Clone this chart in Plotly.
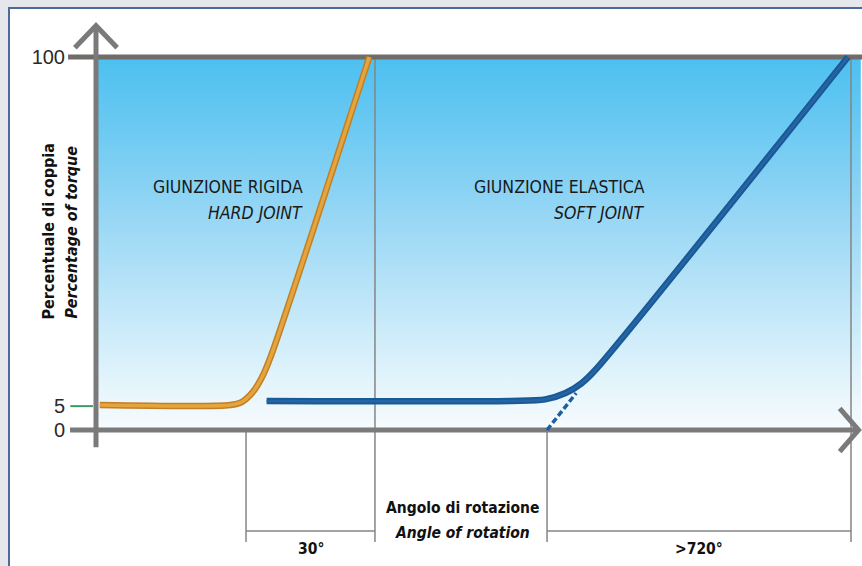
import plotly.graph_objects as go

# ---------------- data (schematic units: x 0..100 along rotation, y = % torque) -------------
hard_x = [0.5, 17.8, 19.3, 20.7, 22.0, 23.2, 36.2]
hard_y = [6.7, 6.7, 7.5, 10.0, 14.2, 20.0, 100.0]

soft_x = [22.6, 55.0, 59.5, 62.2, 64.3, 66.1, 99.6]
soft_y = [7.8, 7.8, 8.2, 9.9, 12.5, 16.0, 100.0]

soft_ext_x = [59.74, 63.6]
soft_ext_y = [0.0, 9.9]

ytick_vals = [0, 6.4, 100]
ytick_text = ["0", "5", "100"]

marks_x = [19.87, 36.95, 59.74, 100.0]      # hard start/end, soft start/end
span_labels = ["30°", ">720°"]

labels_hard = ["GIUNZIONE RIGIDA", "HARD JOINT"]
labels_soft = ["GIUNZIONE ELASTICA", "SOFT JOINT"]
xtitle = ["Angolo di rotazione", "Angle of rotation"]
ytitle = ["Percentuale di coppia", "Percentage of torque"]

# ---------------- style ----------------
NARROW = "'Liberation Sans Narrow', 'DejaVu Sans Condensed', 'Arial Narrow', sans-serif"
AX = "#7a7a7a"
THIN = "#858585"

W, H = 862, 566
L = 66
XR = [-3.974, 101.457]
YR = [-36.46, 115.28]

fig = go.Figure()

# gradient background of the chart area
fig.add_trace(go.Scatter(
    x=[0, 101.3, 101.3, 0, 0], y=[0, 0, 100, 100, 0], mode="lines",
    fill="toself", line=dict(width=0),
    fillgradient=dict(type="vertical", start=0, stop=100,
                      colorscale=[[0, "#f6fbfe"], [0.1, "#e8f6fc"], [0.3, "#c6e9f9"],
                                  [0.55, "#9bd8f5"], [0.8, "#6dcaf2"], [1, "#4cc0f0"]]),
    hoverinfo="skip", showlegend=False))

# thin dimension lines
ybot = -30.0
ydim = -27.1
vx, vy = [], []
for xv, top in zip(marks_x, [0, 100, 0, 100]):
    vx += [xv, xv, None]
    vy += [top, ybot, None]
vx += [marks_x[0], marks_x[1], None, marks_x[2], marks_x[3]]
vy += [ydim, ydim, None, ydim, ydim]
fig.add_trace(go.Scatter(x=vx, y=vy, mode="lines", line=dict(color=THIN, width=1.5),
                         hoverinfo="skip", showlegend=False))

# green tick at 5
fig.add_trace(go.Scatter(x=[-3.4, -0.4], y=[ytick_vals[1]] * 2, mode="lines",
                         line=dict(color="#3c9a68", width=2), hoverinfo="skip", showlegend=False))

# top 100 line
fig.add_trace(go.Scatter(x=[-3.7, 101.46], y=[100, 100], mode="lines",
                         line=dict(color="#6f6c6a", width=5), hoverinfo="skip", showlegend=False))

# axes with arrows
fig.add_trace(go.Scatter(
    x=[0, 0, None, -2.8, 0, 2.8, None, -3.44, 101.0, None, 98.5, 101.0, 98.5],
    y=[-4.6, 108.0, None, 102.5, 108.4, 102.5, None, 0, 0, None, 5.8, 0, -5.8],
    mode="lines", line=dict(color=AX, width=5), hoverinfo="skip", showlegend=False))

# hard joint curve (tube effect)
fig.add_trace(go.Scatter(x=hard_x, y=hard_y, mode="lines", line=dict(color="#c27f25", width=6.5, shape="spline", smoothing=0.8),
                         hoverinfo="skip", showlegend=False))
fig.add_trace(go.Scatter(x=hard_x, y=hard_y, mode="lines", line=dict(color="#e4a53e", width=3.5, shape="spline", smoothing=0.8),
                         hoverinfo="skip", showlegend=False))

# soft joint curve
fig.add_trace(go.Scatter(x=soft_ext_x, y=soft_ext_y, mode="lines", line=dict(color="#1d60a2", width=3.5, dash="6px,3px"),
                         hoverinfo="skip", showlegend=False))
fig.add_trace(go.Scatter(x=soft_x, y=soft_y, mode="lines", line=dict(color="#1a5996", width=6.5, shape="spline", smoothing=0.8),
                         hoverinfo="skip", showlegend=False))
fig.add_trace(go.Scatter(x=soft_x, y=soft_y, mode="lines", line=dict(color="#2565a5", width=2.5, shape="spline", smoothing=0.8),
                         hoverinfo="skip", showlegend=False))

def px2paper_x(px):
    return (px - L) / (W - L)

def px2paper_y(py):
    return (H - py) / H

# outer frame
fig.add_shape(type="rect", xref="paper", yref="paper",
              x0=px2paper_x(9), x1=px2paper_x(880), y0=px2paper_y(590), y1=px2paper_y(8),
              fillcolor="white", line=dict(color="#4a6b9b", width=2), layer="below")

ann = []
txt = dict(family=NARROW, size=17.5, color="#1a1a1a")
ann.append(dict(x=27.68, y=65.1, text=labels_hard[0], xanchor="right", font=txt))
ann.append(dict(x=27.68, y=58.2, text="<i>%s</i>" % labels_hard[1], xanchor="right", font=txt))
ann.append(dict(x=72.98, y=65.1, text=labels_soft[0], xanchor="right", font=txt))
ann.append(dict(x=72.98, y=58.2, text="<i>%s</i>" % labels_soft[1], xanchor="right", font=txt))

bt = dict(family=NARROW, size=15.5, color="#111111")
ann.append(dict(x=48.6, y=-20.9, text="<b>%s</b>" % xtitle[0], font=bt))
ann.append(dict(x=48.6, y=-27.6, text="<b><i>%s</i></b>" % xtitle[1], font=bt))
ann.append(dict(x=(marks_x[0] + marks_x[1]) / 2, y=-31.9, text="<b>%s</b>" % span_labels[0], font=bt))
ann.append(dict(x=(marks_x[2] + marks_x[3]) / 2, y=-31.9, text="<b>%s</b>" % span_labels[1], font=bt))

ann.append(dict(xref="paper", x=px2paper_x(37), y=53.1, text="<b>%s</b>" % ytitle[0], textangle=-90, font=dict(family=NARROW, size=16, color="#111")))
ann.append(dict(xref="paper", x=px2paper_x(60), y=53.1, text="<b><i>%s</i></b>" % ytitle[1], textangle=-90, font=dict(family=NARROW, size=16, color="#111")))

for a in ann:
    a.setdefault("xref", "x")
    a["yref"] = "y"
    a["showarrow"] = False
    a.setdefault("yanchor", "middle")

fig.update_layout(
    width=W, height=H,
    margin=dict(l=L, r=0, t=0, b=0),
    paper_bgcolor="#e5e7ec", plot_bgcolor="rgba(0,0,0,0)",
    showlegend=False,
    annotations=ann,
    xaxis=dict(range=XR, visible=False, fixedrange=True),
    yaxis=dict(range=YR, tickvals=ytick_vals, ticktext=ytick_text, showgrid=False, zeroline=False,
               showline=False, ticks="", tickfont=dict(family="'Liberation Sans', Arial, sans-serif", size=20, color="#2a2a2a"),
               fixedrange=True),
)

fig.write_html("out.html", config={"displayModeBar": False},
               post_script="document.body.style.margin='0px';document.body.style.background='#e5e7ec';")
